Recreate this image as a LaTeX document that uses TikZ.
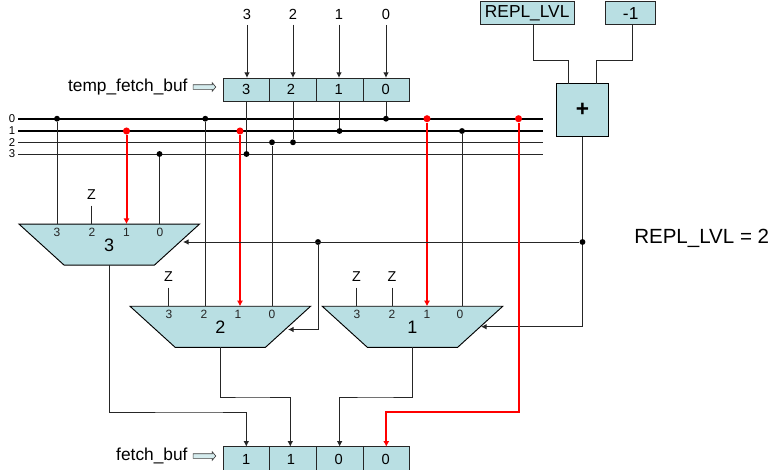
\documentclass[tikz,border=0pt]{standalone}
\usepackage{fontspec}
\setsansfont{Liberation Sans}
\usetikzlibrary{positioning, arrows.meta, calc, shapes.geometric, shapes.arrows}
\definecolor{boxblue}{HTML}{B9DFE3}

\begin{document}
\begin{tikzpicture}[
  x=0.75pt, y=-0.75pt,
  font=\sffamily\fontsize{11}{13}\selectfont,
  cell/.style={rectangle, draw=black!85, fill=boxblue, line width=0.7pt, outer sep=0pt,
               minimum width=35pt, minimum height=17.3pt, inner sep=0pt},
  srcbox/.style={rectangle, draw=black!85, fill=boxblue, line width=0.7pt, outer sep=0pt,
                 minimum height=17.3pt, inner sep=0pt, font=\sffamily\fontsize{13}{15}\selectfont},
  mux/.style={trapezium, shape border rotate=180, trapezium left angle=42.3, trapezium right angle=42.3,
              trapezium stretches body, draw=black, fill=boxblue, line width=0.7pt, outer sep=0pt, inner sep=0pt,
              text height=20.25pt, text depth=10.55pt,
              minimum width=135.4pt, font=\sffamily\fontsize{13.5}{15}\selectfont},
  pinlab/.style={inner sep=0pt, text=black!85, font=\sffamily\fontsize{9}{10}\selectfont},
  lab/.style={inner sep=4pt},
  zlab/.style={inner sep=4pt, font=\sffamily\fontsize{10.7}{12}\selectfont},
  buslab/.style={inner sep=0pt, font=\sffamily\fontsize{8.5}{9}\selectfont},
  name lab/.style={inner sep=0pt, font=\sffamily\fontsize{13}{15}\selectfont},
  hollow/.style={single arrow, draw=black!75, fill=boxblue!60, line width=0.5pt, inner sep=0pt, outer sep=0pt,
                 text height=1.5pt, text depth=1.5pt, text width=0pt,
                 minimum height=17pt, single arrow head extend=1.4pt, single arrow tip angle=100},
  dot/.style={circle, fill=black, inner sep=0pt, minimum size=4.4pt},
  reddot/.style={circle, fill=red, inner sep=0pt, minimum size=5.3pt},
  wire/.style={line width=0.75pt, black!85},
  fwd/.style={wire, -{Latex[length=4.2pt,width=4.2pt]}},
  hot/.style={line width=1.5pt, red, -{Latex[length=4.2pt,width=4.6pt]}},
  fatbus/.style={line width=1.5pt, black},
  thinbus/.style={line width=0.7pt, black!85},
]
\useasboundingbox (0,0) rectangle (772,469);

% temp_fetch_buf register
\node[cell] (tc3) at (246.3,89.5) {3};
\node[cell, right=0pt of tc3] (tc2) {2\kern3pt};
\node[cell, right=0pt of tc2] (tc1) {1\kern1.5pt};
\node[cell, right=0pt of tc1] (tc0) {0\kern1pt};
\node[hollow] (tarrow) at (203.5,87) {};
\node[name lab, left=4pt of tarrow] (tname) {temp\_fetch\_buf};

\node[lab] (in3) at (247,14) {3};
\node[lab] (in2) at (293,14) {2};
\node[lab] (in1) at (339,14) {1};
\node[lab] (in0) at (386,14) {0};
\draw[fwd] (in3) -- (in3 |- tc3.north);
\draw[fwd] (in2) -- (in2 |- tc2.north);
\draw[fwd] (in1) -- (in1 |- tc1.north);
\draw[fwd] (in0) -- (in0 |- tc0.north);

% bus
\node[buslab] (bl0) at (12,118.7) {0};
\node[buslab] (bl1) at (12,131) {1};
\node[buslab] (bl2) at (12,142.3) {2};
\node[buslab] (bl3) at (12,154) {3};
\coordinate (be0) at (543,118.7);
\coordinate (be1) at (543,131);
\coordinate (be2) at (543,142.3);
\coordinate (be3) at (543,154);
\draw[fatbus] (bl0.east) ++(2pt,0) -- (be0);
\draw[fatbus] (bl1.east) ++(2pt,0) -- (be1);
\draw[thinbus] (bl2.east) ++(2pt,0) -- (be2);
\draw[thinbus] (bl3.east) ++(2pt,0) -- (be3);

\node[dot] (d3) at (246.5,154) {};
\node[dot] (d2) at (293,142.3) {};
\node[dot] (d1) at (339.5,131) {};
\node[dot] (d0) at (386,118.7) {};
\draw[wire] (tc3.south -| d3) -- (d3);
\draw[wire] (tc2.south -| d2) -- (d2);
\draw[wire] (tc1.south -| d1) -- (d1);
\draw[wire] (tc0.south -| d0) -- (d0);

% mux 3
\node[mux] (muxa) at (109.25,244.6) {3};
\node[pinlab] (pa3) at (57,232) {3};
\node[pinlab] (pa2) at (92,232) {2};
\node[pinlab] (pa1) at (126.5,232) {1};
\node[pinlab] (pa0) at (160,232) {0};
\node[dot] (ta3) at (57,118.7) {};
\node[zlab] (za2) at (91.5,195) {Z};
\node[reddot] (ta1) at (126.5,131) {};
\node[dot] (ta0) at (159.5,154) {};
\draw[wire] (ta3) -- (ta3 |- muxa.north);
\draw[wire] (za2) -- (za2 |- muxa.north);
\draw[hot] (ta1) -- (ta1 |- muxa.north);
\draw[wire] (ta0) -- (ta0 |- muxa.north);

% mux 2
\node[mux] (muxb) at (220.3,326.8) {2};
\node[pinlab] (pb3) at (169,314.5) {3};
\node[pinlab] (pb2) at (204,314.5) {2};
\node[pinlab] (pb1) at (238,314.5) {1};
\node[pinlab] (pb0) at (272,314.5) {0};
\node[zlab] (zb3) at (168.5,277) {Z};
\node[dot] (tb2) at (205.3,118.7) {};
\node[reddot] (tb1) at (240,131) {};
\node[dot] (tb0) at (272,142.3) {};
\draw[wire] (zb3) -- (zb3 |- muxb.north);
\draw[wire] (tb2) -- (tb2 |- muxb.north);
\draw[hot] (tb1) -- (tb1 |- muxb.north);
\draw[wire] (tb0) -- (tb0 |- muxb.north);

% mux 1
\node[mux] (muxc) at (412.5,326.8) {1};
\node[pinlab] (pc3) at (357,314.5) {3};
\node[pinlab] (pc2) at (392,314.5) {2};
\node[pinlab] (pc1) at (427,314.5) {1};
\node[pinlab] (pc0) at (460,314.5) {0};
\node[zlab] (zc3) at (356.5,277) {Z};
\node[zlab] (zc2) at (392,277) {Z};
\node[reddot] (tc1r) at (427,118.7) {};
\node[dot] (tc0b) at (462,131) {};
\draw[wire] (zc3) -- (zc3 |- muxc.north);
\draw[wire] (zc2) -- (zc2 |- muxc.north);
\draw[hot] (tc1r) -- (tc1r |- muxc.north);
\draw[wire] (tc0b) -- (tc0b |- muxc.north);

% REPL_LVL adder
\node[srcbox, minimum width=70.3pt] (repl) at (527.2,13.2) {REPL\_LVL};
\node[srcbox, minimum width=37.5pt] (minus) at (630.7,13.2) {-1};
\node[rectangle, draw=black, fill=boxblue, line width=0.7pt, outer sep=0pt, inner sep=0pt,
      minimum width=39.3pt, minimum height=39.7pt, font=\sffamily\bfseries\fontsize{17}{19}\selectfont] (adder) at (582.5,110.2) {+};
\coordinate (rb) at (550,60.3);
\coordinate (mb) at (614,60.3);
\draw[wire] (repl.south -| 533,0) |- (rb) -| (568,83.7);
\draw[wire] (minus.south -| 632,0) |- (mb) -| (596.7,83.7);
\node[name lab, font=\sffamily\fontsize{15.4}{17}\selectfont, anchor=west] (rlabel) at (634,238) {REPL\_LVL = 2};

% select lines
\node[dot] (sr) at (582.5,242) {};
\node[dot] (sm) at (318,242) {};
\coordinate (sela) at (183,242);
\coordinate (selb) at (288,329.5);
\coordinate (selc) at (481,326.7);
\draw[wire] (adder.south) -- (sr);
\draw[fwd] (sr) -- (sela);
\draw[fwd] (sm) |- (selb);
\draw[fwd] (sr) |- (selc);

% fetch_buf register
\node[cell, minimum height=19.5pt] (fc3) at (246.3,459.7) {1};
\node[cell, minimum height=19.5pt, right=0pt of fc3] (fc2) {1\kern3pt};
\node[cell, minimum height=19.5pt, right=0pt of fc2] (fc1) {0\kern1.5pt};
\node[cell, minimum height=19.5pt, right=0pt of fc1] (fc0) {0\kern1pt};
\node[hollow] (farrow) at (203.5,456) {};
\node[name lab, left=4pt of farrow] (fname) {fetch\_buf};

% mux outputs
\coordinate (oa) at (200,412);
\coordinate (ob) at (250,397);
\coordinate (oc) at (375,397);
\coordinate (od) at (450,412);
\node[reddot] (tfinal) at (518.5,118.7) {};
\draw[fwd] (muxa.south) |- (oa) -| (fc3.north);
\draw[fwd] (muxb.south) |- (ob) -| ([xshift=-2pt]fc2.north);
\draw[fwd] (muxc.south) |- (oc) -| (fc1.north);
\draw[hot] (tfinal) |- (od) -| (fc0.north);
\end{tikzpicture}
\end{document}
